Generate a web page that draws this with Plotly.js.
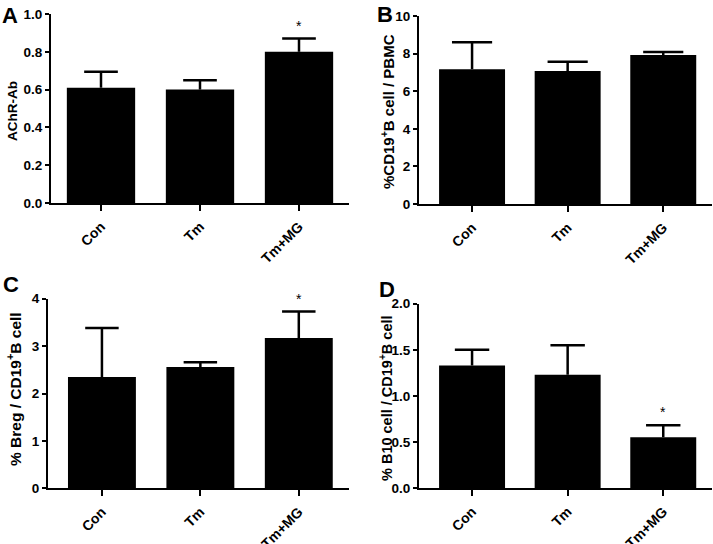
<!DOCTYPE html>
<html>
<head>
<meta charset="utf-8">
<script src="https://cdn.plot.ly/plotly-3.0.1.min.js"></script>
<style>html,body{margin:0;padding:0;background:#fff;}#chart{width:713px;height:544px;}</style>
</head>
<body>
<div id="chart"></div>
<script>
// ---- data ----
var categories = ['Con', 'Tm', 'Tm+MG'];

var aMean = [0.61, 0.60, 0.80];
var aErr  = [0.085, 0.05, 0.07];
var aSig  = ['', '', '*'];

var bMean = [7.17, 7.07, 7.92];
var bErr  = [1.43, 0.50, 0.17];
var bSig  = ['', '', ''];

var cMean = [2.35, 2.56, 3.17];
var cErr  = [1.03, 0.10, 0.56];
var cSig  = ['', '', '*'];

var dMean = [1.33, 1.23, 0.55];
var dErr  = [0.17, 0.32, 0.13];
var dSig  = ['', '', '*'];

var panelLetters = ['A', 'B', 'C', 'D'];
var yTitles = ['AChR-Ab', '%CD19<sup>+</sup>B cell / PBMC', '% Breg / CD19<sup>+</sup>B cell', '% B10 cell / CD19<sup>+</sup>B cell'];

// ---- build ----
(function () {
var FONT = 'Arial, "Liberation Sans", Helvetica, sans-serif';
var means = [aMean, bMean, cMean, dMean];
var errs = [aErr, bErr, cErr, dErr];
var sigs = [aSig, bSig, cSig, dSig];
var capHalf = [0.17, 0.21, 0.17, 0.18];   // style: cap half-width in category units
var idx = categories.map(function (c, i) { return i; });

var traces = [];
var annotations = [];
for (var p = 0; p < 4; p++) {
  var sfx = p === 0 ? '' : String(p + 1);
  traces.push({
    type: 'bar',
    x: idx,
    y: means[p],
    xaxis: 'x' + sfx,
    yaxis: 'y' + sfx,
    width: 0.69,
    marker: {color: '#000', line: {width: 0}},
    showlegend: false,
    hoverinfo: 'skip'
  });
  // one-sided (upper) error bars built from the data arrays
  var ex = [], ey = [];
  for (var i = 0; i < idx.length; i++) {
    var upper = means[p][i] + errs[p][i];
    ex.push(idx[i], idx[i], null, idx[i] - capHalf[p], idx[i] + capHalf[p], null);
    ey.push(means[p][i], upper, null, upper, upper, null);
  }
  traces.push({
    type: 'scatter', mode: 'lines', x: ex, y: ey,
    xaxis: 'x' + sfx, yaxis: 'y' + sfx,
    line: {color: '#000', width: 2.5},
    connectgaps: false, showlegend: false, hoverinfo: 'skip'
  });
  for (var j = 0; j < categories.length; j++) {
    if (sigs[p][j]) {
      annotations.push({
        xref: 'x' + sfx, yref: 'y' + sfx,
        x: idx[j], y: means[p][j] + errs[p][j],
        text: sigs[p][j], showarrow: false,
        yanchor: 'bottom', yshift: 3,
        font: {family: FONT, size: 14, color: '#000'}
      });
    }
  }
}

var letterPos = [[0, 1 - 1/544], [375/713, 1 - 0/544], [1/713, 1 - 270/544], [377/713, 1 - 275/544]];
for (var k = 0; k < 4; k++) {
  annotations.push({
    xref: 'paper', yref: 'paper', x: letterPos[k][0], y: letterPos[k][1],
    xanchor: 'left', yanchor: 'top', text: panelLetters[k], showarrow: false,
    font: {family: FONT, size: 22, color: '#000', weight: 'bold'}
  });
}

// y-axis titles as rotated annotations
var titlePos = [[12, 111], [387, 111], [14, 389], [386, 398]];
var titleSize = [13.5, 15, 15.5, 14.5];
for (var t = 0; t < 4; t++) {
  annotations.push({
    xref: 'paper', yref: 'paper',
    x: titlePos[t][0] / 713, y: 1 - titlePos[t][1] / 544,
    xanchor: 'center', yanchor: 'middle', textangle: -90,
    text: yTitles[t], showarrow: false,
    font: {family: FONT, size: titleSize[t], color: '#000', weight: 'bold'}
  });
}

function xax(dom, range, anchor) {
  return {
    domain: dom, range: range, anchor: anchor, type: 'linear',
    tickvals: idx, ticktext: categories,
    showline: true, linecolor: '#000', linewidth: 2,
    ticks: 'outside', ticklen: 6, tickwidth: 2, tickcolor: '#000',
    ticklabelstandoff: 2,
    tickangle: -45, showgrid: false, zeroline: false, fixedrange: true,
    tickfont: {family: FONT, size: 14, color: '#000', weight: 'bold'}
  };
}
function yax(dom, range, dtick, fmt, anchor) {
  return {
    domain: dom, range: range, dtick: dtick, tick0: 0, tickformat: fmt, anchor: anchor,
    showline: true, linecolor: '#000', linewidth: 2,
    ticks: 'outside', ticklen: 4, tickwidth: 2, tickcolor: '#000',
    showgrid: false, zeroline: false, fixedrange: true,
    tickfont: {family: FONT, size: 13.5, color: '#000', weight: 'bold'}
  };
}

var layout = {
  width: 713, height: 544,
  margin: {l: 0, r: 0, t: 0, b: 0},
  paper_bgcolor: '#fff', plot_bgcolor: '#fff',
  showlegend: false,
  xaxis:  xax([51/713, 349/713], [-0.505, 2.505], 'y'),
  yaxis:  yax([1 - 203/544, 1 - 14/544], [0, 1], 0.2, '.1f', 'x'),
  xaxis2: xax([419/713, 712/713], [-0.555, 2.51], 'y2'),
  yaxis2: yax([1 - 204/544, 1 - 16/544], [0, 10], 2, '', 'x2'),
  xaxis3: xax([48/713, 349/713], [-0.548, 2.51], 'y3'),
  yaxis3: yax([1 - 488.3/544, 1 - 298.7/544], [0, 4], 1, '', 'x3'),
  xaxis4: xax([419/713, 712/713], [-0.555, 2.51], 'y4'),
  yaxis4: yax([1 - 488/544, 1 - 303.7/544], [0, 2], 0.5, '.1f', 'x4'),
  annotations: annotations
};

Plotly.newPlot('chart', traces, layout, {displayModeBar: false, staticPlot: true});
})();
</script>
</body>
</html>
